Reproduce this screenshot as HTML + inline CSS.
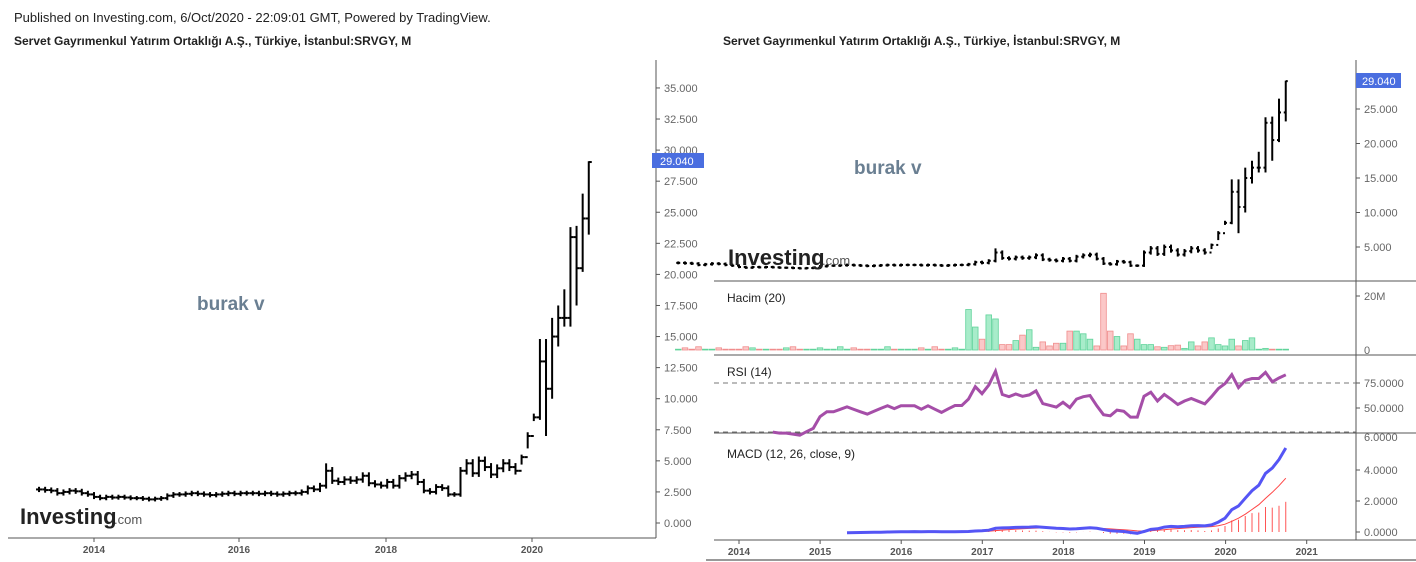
<!DOCTYPE html><html><head><meta charset="utf-8"><style>
body{margin:0;background:#fff;width:1416px;height:562px;overflow:hidden;font-family:"Liberation Sans",sans-serif}
svg{position:absolute;left:0;top:0}
</style></head><body>
<svg id="s" width="1416" height="562" xmlns="http://www.w3.org/2000/svg" font-family="Liberation Sans, sans-serif">
<text x="14" y="22" font-size="13" fill="#222">Published on Investing.com, 6/Oct/2020 - 22:09:01 GMT, Powered by TradingView.</text>
<text x="14" y="45" font-size="12" font-weight="bold" fill="#222">Servet Gayrımenkul Yatırım Ortaklığı A.Ş., Türkiye, İstanbul:SRVGY, M</text>
<text x="723" y="45" font-size="12" font-weight="bold" fill="#222">Servet Gayrımenkul Yatırım Ortaklığı A.Ş., Türkiye, İstanbul:SRVGY, M</text>
<g id="g"></g>
</svg>
<script>
var C=[2.7,2.65,2.6,2.4,2.5,2.6,2.55,2.4,2.3,
2.1,2.0,2.1,2.05,2.1,2.05,2.0,2.0,1.95,1.9,1.95,2.0,
2.2,2.3,2.3,2.35,2.4,2.35,2.3,2.25,2.3,2.35,2.4,2.35,
2.4,2.4,2.4,2.35,2.4,2.35,2.3,2.35,2.4,2.4,2.5,2.8,
2.7,3.0,4.2,3.4,3.3,3.5,3.4,3.5,3.8,3.2,3.1,3.0,
3.3,3.0,3.6,3.8,3.9,3.3,2.6,2.5,2.9,2.8,2.3,2.3,
4.2,4.8,4.0,5.0,4.5,3.9,4.4,4.8,4.5,4.2,5.3,7.0,
8.5,13.0,10.8,15.0,16.5,16.5,23.0,20.5,24.5,29.04];
var HL={79:[5.5,4.7],80:[7.3,6.0],81:[8.8,8.2],82:[14.8,8.3],83:[14.8,7.0],84:[16.5,10.0],85:[17.5,14.2],86:[18.8,15.8],87:[23.8,15.8],88:[23.9,17.5],89:[26.5,20.2],90:[29.1,23.2]};
var N=C.length,O=[],H=[],L=[];
for(var i=0;i<N;i++){var o=i?C[i-1]:C[0];O.push(o);var h=Math.max(o,C[i])*1.06+0.05,l=Math.min(o,C[i])*0.94-0.05;
if(i==47){h=4.8}if(HL[i]){h=HL[i][0];l=HL[i][1]}H.push(h);L.push(l)}
var s='';
function ln(x1,y1,x2,y2,c,w,d){s+='<line x1="'+x1+'" y1="'+y1+'" x2="'+x2+'" y2="'+y2+'" stroke="'+c+'" stroke-width="'+(w||1)+'"'+(d?' stroke-dasharray="'+d+'"':'')+'/>'}
function tx(x,y,t,sz,c,a,b){s+='<text x="'+x+'" y="'+y+'" font-size="'+sz+'" fill="'+c+'"'+(a?' text-anchor="'+a+'"':'')+(b?' font-weight="bold"':'')+'>'+t+'</text>'}
// LEFT
function lx(m){return 94+(m-9)*73.3/12}function ly(v){return 523-v*12.43}
ln(656,60,656,538,'#555');ln(8,538,656,538,'#555');
for(var v=0;v<=35;v+=2.5){var y=ly(v);ln(656,y,660,y,'#555');tx(664,y+4,v.toFixed(3),11,'#666')}
[[2014,94],[2016,239],[2018,386],[2020,532]].forEach(function(a){ln(a[1],538,a[1],542,'#555');tx(a[1],553,a[0],10,'#555','middle',1)});
for(i=0;i<N;i++){var x=lx(i);ln(x,ly(H[i]),x,ly(L[i]),'#000',2);ln(x-3,ly(O[i]),x,ly(O[i]),'#000',2);ln(x,ly(C[i]),x+3,ly(C[i]),'#000',2)}
s+='<rect x="652" y="153" width="52" height="15" fill="#4a6ee0"/>';tx(660,165,'29.040',11,'#fff');
tx(197,310,'burak v',19,'#6a7f92',0,1);
// RIGHT
function rx(m){return 739+(m-9)*81/12}function ry(v){return 281.5-v*6.9}
ln(1356,60,1356,540,'#555');ln(714,281,1416,281,'#555');ln(714,355,1416,355,'#555');ln(714,433,1416,433,'#555');ln(714,540,1416,540,'#555');
[5,10,15,20,25].forEach(function(v){var y=ry(v);ln(1356,y,1360,y,'#555');tx(1364,y+4,v.toFixed(3),11,'#666')});
for(i=0;i<N;i++){var x=rx(i);ln(x,ry(H[i]),x,ry(L[i]),'#000',2);ln(x-2,ry(O[i]),x,ry(O[i]),'#000',2);ln(x,ry(C[i]),x+2,ry(C[i]),'#000',2)}
s+='<rect x="1356" y="73" width="45" height="15" fill="#4a6ee0"/>';tx(1362,85,'29.040',11,'#fff');
tx(854,174,'burak v',19,'#6a7f92',0,1);
// volume
var VV={43:15,44:8.5,45:4,46:13,47:11.5,48:2,49:2,50:3.5,51:5.5,52:7.5,53:1,54:3,55:1.5,56:2.5,57:2.5,58:7,59:7,60:6,61:4,62:1.5,63:21,64:7,65:5,66:1.5,67:6,68:4,69:2,70:2,71:1.2,72:1,73:1.6,74:1.8,75:0.6,76:3,77:1.5,78:3,79:4.5,80:2,81:1.5,82:4,83:1.5,84:3.5,85:4.5,86:0.3,87:0.6,88:0.3};
for(i=0;i<N;i++){var v=VV[i]!=null?VV[i]:(i%7==3?1.2:i%5==1?0.8:0.3);var h=v*2.7,x=rx(i)-2.8,up=C[i]>=O[i];
s+='<rect x="'+x+'" y="'+(350-h)+'" width="5.6" height="'+h+'" fill="'+(up?'#a8ecca':'#fbc8c8')+'" stroke="'+(up?'#5fd39a':'#f08c8c')+'" stroke-width="0.8"/>'}
tx(727,302,'Hacim (20)',12,'#222');ln(1356,296,1360,296,'#555');tx(1364,300,'20M',11,'#666');tx(1364,354,'0',11,'#666');
// RSI
ln(714,383,1356,383,'#777',1,'5,4');ln(714,432,1356,432,'#777',1,'5,4');
var ag=0,al=0,r=[],p=14;for(i=1;i<N;i++){var d=C[i]-C[i-1],g=Math.max(d,0),lo=Math.max(-d,0);
if(i<=p){ag+=g/p;al+=lo/p}else{ag=(ag*(p-1)+g)/p;al=(al*(p-1)+lo)/p}
if(i>=p){r.push([rx(i),408-((al==0?100:100-100/(1+ag/al))-50)*1.0])}}
s+='<polyline fill="none" stroke="#a54ea8" stroke-width="3" points="'+r.map(function(q){return q[0].toFixed(1)+','+q[1].toFixed(1)}).join(' ')+'"/>';
tx(727,376,'RSI (14)',12,'#222');ln(1356,383,1360,383,'#555');tx(1364,387,'75.0000',11,'#666');ln(1356,408,1360,408,'#555');tx(1364,412,'50.0000',11,'#666');tx(1364,441,'6.0000',11,'#666');
// MACD
function ema(a,n){var k=2/(n+1),e=[a[0]];for(var i=1;i<a.length;i++)e.push(a[i]*k+e[i-1]*(1-k));return e}
var e12=ema(C,12),e26=ema(C,26),m=C.map(function(c,i){return e12[i]-e26[i]}),sg=ema(m,9);
function my(v){return 532-v*15.5}
var pm=[],ps=[];for(i=25;i<N;i++){pm.push(rx(i).toFixed(1)+','+my(m[i]).toFixed(1));if(i>=33){ps.push(rx(i).toFixed(1)+','+my(sg[i]).toFixed(1));var hh=m[i]-sg[i];ln(rx(i),my(0),rx(i),my(hh),'#f55',1)}}
s+='<polyline fill="none" stroke="#f44" stroke-width="1" points="'+ps.join(' ')+'"/>';
s+='<polyline fill="none" stroke="#5555f5" stroke-width="3" points="'+pm.join(' ')+'"/>';
tx(727,458,'MACD (12, 26, close, 9)',12,'#222');
[[0,'0.0000'],[2,'2.0000'],[4,'4.0000']].forEach(function(a){var y=my(a[0]);ln(1356,y,1360,y,'#555');tx(1364,y+4,a[1],11,'#666')});
[2014,2015,2016,2017,2018,2019,2020,2021].forEach(function(yr,k){var x=739+k*81.1;ln(x,540,x,544,'#555');tx(x,555,yr,10,'#555','middle',1)});
ln(706,560,1416,560,'#333');
tx(20,524,'Investing',22,'#222',0,1);tx(114,524,'.com',13,'#555');
tx(728,265,'Investing',22,'#222',0,1);tx(822,265,'.com',13,'#555');
document.getElementById('g').innerHTML=s;
</script>
</body></html>
